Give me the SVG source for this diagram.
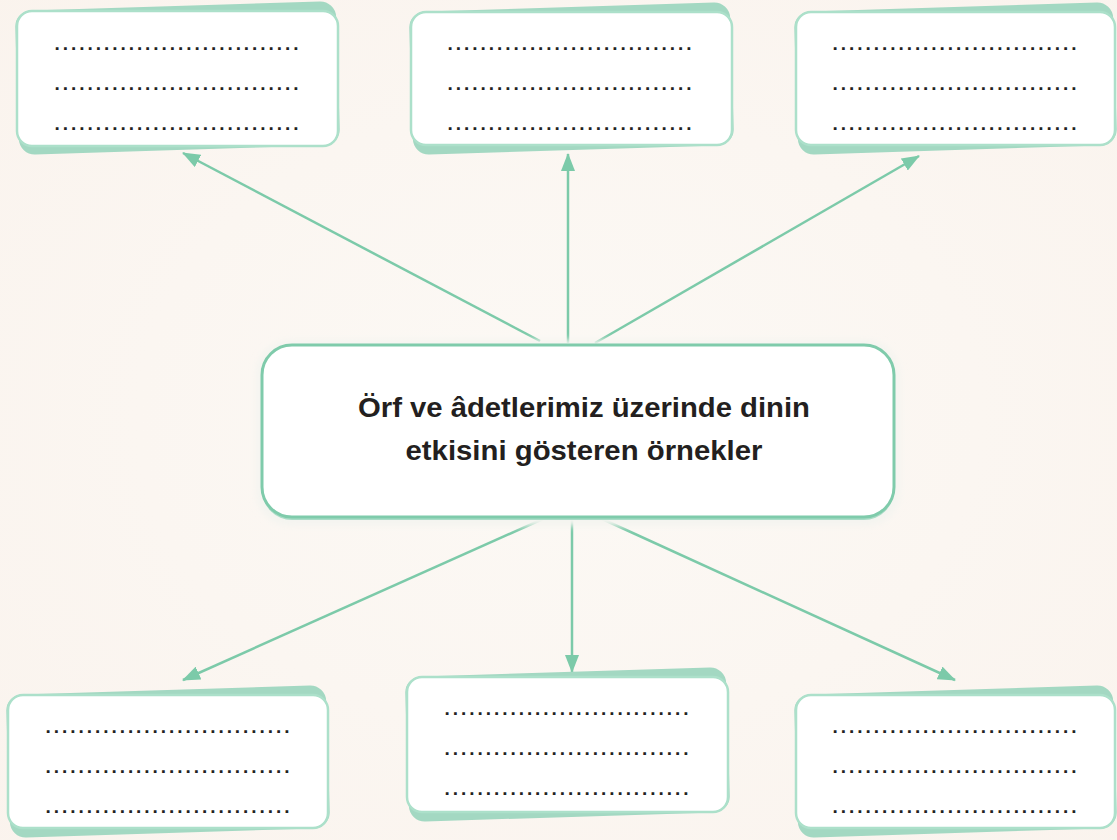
<svg xmlns="http://www.w3.org/2000/svg" width="1117" height="840" viewBox="0 0 1117 840">
<defs>
<radialGradient id="bg" cx="0.5" cy="0.5" r="0.75">
<stop offset="0" stop-color="#fcf9f5"/>
<stop offset="1" stop-color="#faf3ed"/>
</radialGradient>
<marker id="ah" markerWidth="18" markerHeight="14" refX="17" refY="7" orient="auto" markerUnits="userSpaceOnUse">
<path d="M0,0 L18,7 L0,14 Z" fill="#7ccaa9"/>
</marker>
<filter id="glow" x="-10%" y="-20%" width="120%" height="140%">
<feGaussianBlur stdDeviation="3"/>
</filter>
</defs>
<style>
.card{fill:#a3d8c2;}
.face{fill:#ffffff;stroke:#ace0ca;stroke-width:2.5;}
.dots{font-family:"Liberation Sans",Arial,sans-serif;font-weight:bold;font-size:19px;fill:#222222;letter-spacing:2.95px;}
.conn{stroke:#7ccaa9;stroke-width:2.5;fill:none;marker-end:url(#ah);}
.title{font-family:"Liberation Sans",Arial,sans-serif;font-weight:bold;font-size:27px;fill:#231f20;text-anchor:middle;}
</style>
<rect width="1117" height="840" fill="url(#bg)"/>

<g id="connectors">
<line class="conn" x1="540" y1="341" x2="183" y2="153"/>
<line class="conn" x1="568" y1="343" x2="568" y2="154"/>
<line class="conn" x1="595" y1="343" x2="919" y2="156"/>
<line class="conn" x1="545" y1="518" x2="183" y2="680"/>
<line class="conn" x1="572" y1="518" x2="572" y2="672"/>
<line class="conn" x1="600" y1="518" x2="955" y2="680"/>
</g>

<g id="center">
<rect x="256" y="340" width="644" height="186" rx="34" fill="#f4f4f0" filter="url(#glow)"/>
<rect x="262" y="348" width="632" height="172" rx="30" fill="#a9dcc6"/>
<rect x="262" y="345" width="632" height="172" rx="30" fill="#ffffff" stroke="#7fcbab" stroke-width="3"/>
<text class="title" x="584" y="417" textLength="452" lengthAdjust="spacingAndGlyphs">Örf ve âdetlerimiz üzerinde dinin</text>
<text class="title" x="584" y="460" textLength="357" lengthAdjust="spacingAndGlyphs">etkisini gösteren örnekler</text>
</g>

<g id="box-tl">
<rect class="card" x="17" y="6" width="321" height="144" rx="16" transform="rotate(-1.8 177 78)"/>
<rect class="face" x="17" y="11" width="321" height="135" rx="15"/>
<text class="dots" x="54.6" y="49.5">..............................</text>
<text class="dots" x="54.6" y="89.5">..............................</text>
<text class="dots" x="54.6" y="129.5">..............................</text>
</g>

<g id="box-tm">
<rect class="card" x="411" y="7" width="321" height="143" rx="16" transform="rotate(-1.8 571 78)"/>
<rect class="face" x="411" y="12" width="321" height="133" rx="15"/>
<text class="dots" x="447.6" y="49.5">..............................</text>
<text class="dots" x="447.6" y="89.5">..............................</text>
<text class="dots" x="447.6" y="129.5">..............................</text>
</g>

<g id="box-tr">
<rect class="card" x="796" y="7" width="319" height="143" rx="16" transform="rotate(-1.8 955 78)"/>
<rect class="face" x="796" y="12" width="319" height="133" rx="15"/>
<text class="dots" x="832.6" y="49.5">..............................</text>
<text class="dots" x="832.6" y="89.5">..............................</text>
<text class="dots" x="832.6" y="129.5">..............................</text>
</g>

<g id="box-bl">
<rect class="card" x="8" y="690" width="320" height="143" rx="16" transform="rotate(-1.8 168 761)"/>
<rect class="face" x="8" y="695" width="320" height="133" rx="15"/>
<text class="dots" x="45.6" y="732.5">..............................</text>
<text class="dots" x="45.6" y="772.5">..............................</text>
<text class="dots" x="45.6" y="812.5">..............................</text>
</g>

<g id="box-bm">
<rect class="card" x="407" y="672" width="321" height="145" rx="16" transform="rotate(-1.8 567 744)"/>
<rect class="face" x="407" y="677" width="321" height="135" rx="15"/>
<text class="dots" x="444.6" y="714.5">..............................</text>
<text class="dots" x="444.6" y="754.5">..............................</text>
<text class="dots" x="444.6" y="794.5">..............................</text>
</g>

<g id="box-br">
<rect class="card" x="796" y="690" width="319" height="143" rx="16" transform="rotate(-1.8 955 761)"/>
<rect class="face" x="796" y="695" width="319" height="133" rx="15"/>
<text class="dots" x="832.6" y="732.5">..............................</text>
<text class="dots" x="832.6" y="772.5">..............................</text>
<text class="dots" x="832.6" y="812.5">..............................</text>
</g>
</svg>
